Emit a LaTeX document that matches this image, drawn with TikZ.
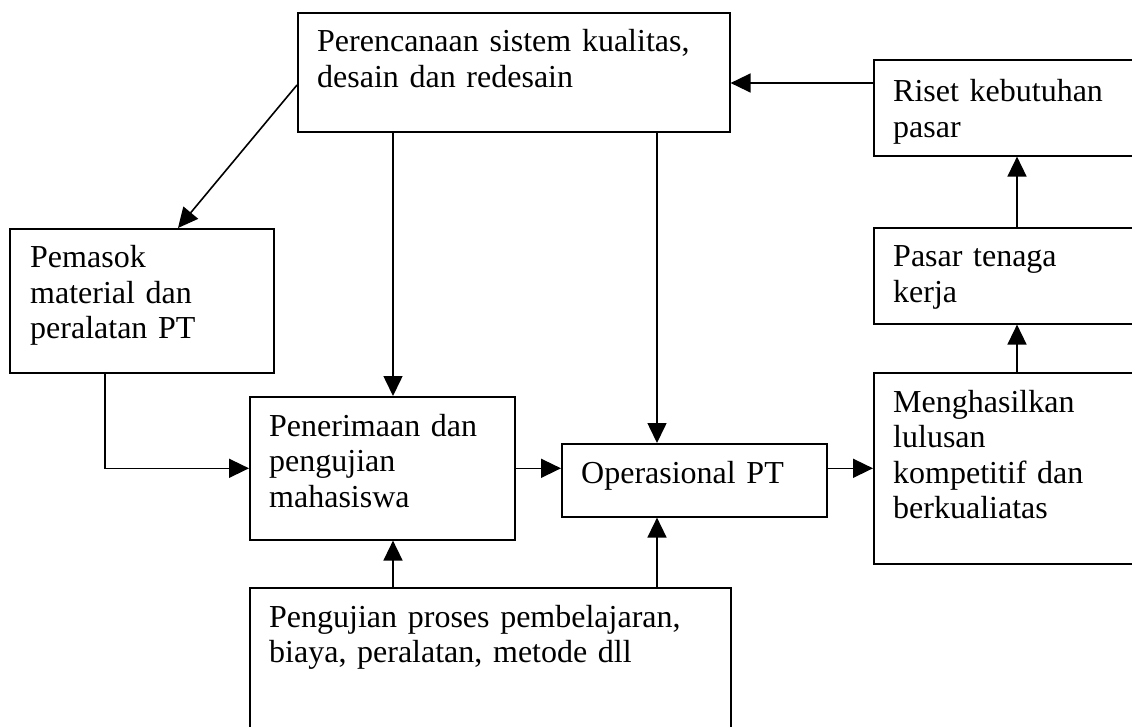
\documentclass[tikz,border=0pt]{standalone}
\usepackage{fontspec}
\setmainfont{Liberation Serif}
\usetikzlibrary{arrows.meta,calc}
\begin{document}
\begin{tikzpicture}[x=1pt,y=-1pt,
  box/.style={draw,line width=1.6pt,anchor=north west,inner sep=0pt,rectangle},
  txt/.style={anchor=base west,inner sep=0pt,text width=600pt,align=left,
    font=\fontsize{32}{35.5}\selectfont},
  arr/.style={line width=1.6pt,-{Triangle[length=20pt,width=19pt]}},
  con/.style={line width=1.6pt}]
\clip (0,0) rectangle (1132,727);
\fill[white] (0,0) rectangle (1132,727);
% boxes
\node[box,minimum width=432pt,minimum height=119pt] (plan) at (297,12) {};
\node[box,minimum width=270pt,minimum height=96pt] (riset) at (873,59) {};
\node[box,minimum width=264pt,minimum height=144pt] (pem) at (9,228) {};
\node[box,minimum width=270pt,minimum height=96pt] (pasar) at (873,227) {};
\node[box,minimum width=265pt,minimum height=143pt] (pen) at (249,396) {};
\node[box,minimum width=265pt,minimum height=73pt] (op) at (561,443) {};
\node[box,minimum width=270pt,minimum height=191pt] (men) at (873,372) {};
\node[box,minimum width=481pt,minimum height=170pt] (uji) at (249,587) {};
% texts
\node[txt] (tplan) at ($(plan.north west)+(20,40)$) {Perencanaan sistem kualitas,\\desain dan redesain};
\node[txt] (triset) at ($(riset.north west)+(20,43)$) {Riset kebutuhan\\pasar};
\node[txt] (tpem) at ($(pem.north west)+(21,40)$) {Pemasok\\material dan\\peralatan PT};
\node[txt] (tpasar) at ($(pasar.north west)+(20,40)$) {Pasar tenaga\\kerja};
\node[txt] (tpen) at ($(pen.north west)+(20,40)$) {Penerimaan dan\\pengujian\\mahasiswa};
\node[txt] (top) at ($(op.north west)+(20,40)$) {Operasional PT};
\node[txt] (tmen) at ($(men.north west)+(20,40)$) {Menghasilkan\\lulusan\\kompetitif dan\\berkualiatas};
\node[txt] (tuji) at ($(uji.north west)+(20,40)$) {Pengujian proses pembelajaran,\\biaya, peralatan, metode dll};
% reference coordinates
\coordinate (xa) at (393,0);
\coordinate (xb) at (657,0);
\coordinate (xc) at (1017,0);
\coordinate (xp) at (105,0);
\coordinate (yr) at (0,83);
\coordinate (ds) at (297,85);
\coordinate (de) at (178,228);
% connectors
\draw[arr] (riset.west |- yr) -- (plan.east |- yr);
\draw[arr] (pasar.north -| xc) -- (riset.south -| xc);
\draw[arr] (men.north -| xc) -- (pasar.south -| xc);
\draw[arr] (ds) -- (de);
\draw[arr] (plan.south -| xa) -- (pen.north -| xa);
\draw[arr] (plan.south -| xb) -- (op.north -| xb);
\draw[arr] (pem.south -| xp) |- (pen.west);
\draw[arr] (pen.east) -- (op.west |- pen.east);
\draw[arr] (op.east |- men.west) -- (men.west);
\draw[arr] (uji.north -| xa) -- (pen.south -| xa);
\draw[arr] (uji.north -| xb) -- (op.south -| xb);
\end{tikzpicture}
\end{document}
